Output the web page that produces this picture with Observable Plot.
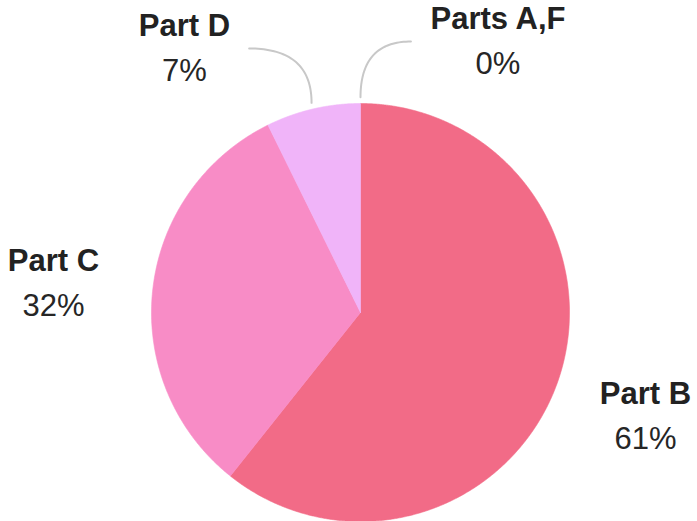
<!DOCTYPE html>
<html><head><meta charset="utf-8">
<script src="https://cdn.jsdelivr.net/npm/d3@7"></script>
<script src="https://cdn.jsdelivr.net/npm/@observablehq/plot@0.6"></script>
<style>body{margin:0;background:#fff}</style>
</head><body><div id="chart"></div>
<script>
// ---- data ----
const parts = ["Part B", "Part C", "Part D", "Parts A,F"];
const shares = [60.7, 32.0, 7.3, 0];
const shareLabels = ["61%", "32%", "7%", "0%"];
const sliceColors = ["#f26b87", "#f88cc6", "#f0b4f9", "#e85b7a"];

// ---- layout ----
const W = 697, H = 521, R = 209, cx = 360, cy = 312;
const FS = 31;
const font = "Liberation Sans, Arial, Helvetica, sans-serif";
const placement = {
  "Part B": {angle: 110.12, r: 1.4522},
  "Part C": {angle: 275.32, r: 1.4753},
  "Part D": {angle: 326.31, r: 1.5182, side: 1},
  "Parts A,F": {angle: 26.9, r: 1.454, side: -1}
};

const arcs = d3.pie().sort(null).value(d => d)(shares);

// slice outlines (units of radius, y up)
const slicePts = [];
arcs.forEach((a, i) => {
  if (a.endAngle - a.startAngle <= 0) return;
  const n = Math.max(2, Math.ceil((a.endAngle - a.startAngle) / 0.005));
  slicePts.push({name: parts[i], x: 0, y: 0});
  for (let k = 0; k <= n; k++) {
    const t = a.startAngle + (a.endAngle - a.startAngle) * k / n;
    slicePts.push({name: parts[i], x: Math.sin(t), y: Math.cos(t)});
  }
  slicePts.push({name: parts[i], x: 0, y: 0});
});

// label positions
const ctx = document.createElement("canvas").getContext("2d");
ctx.font = `bold ${FS}px ${font}`;
const labels = arcs.map((a, i) => {
  const p = placement[parts[i]];
  const mid = (a.startAngle + a.endAngle) / 2;
  const ang = p.angle * Math.PI / 180;
  return {name: parts[i], pct: shareLabels[i], mid, side: p.side,
          x: p.r * Math.sin(ang), y: p.r * Math.cos(ang),
          half: ctx.measureText(parts[i]).width / 2 / R};
});

// leader lines (quadratic curves from label side to pie edge)
const leaderPts = [];
labels.filter(l => l.side).forEach(l => {
  const ex = 1.03 * Math.sin(l.mid), ey = 1.03 * Math.cos(l.mid);
  const sx = l.x + l.side * (l.half + 19 / R), sy = l.y;
  const qx = ex, qy = sy;
  for (let k = 0; k <= 40; k++) {
    const t = k / 40, u = 1 - t;
    leaderPts.push({name: l.name,
      x: u * u * sx + 2 * u * t * qx + t * t * ex,
      y: u * u * sy + 2 * u * t * qy + t * t * ey});
  }
});

const chart = Plot.plot({
  width: W, height: H, margin: 0,
  style: {fontFamily: font, background: "#fff", overflow: "visible"},
  x: {domain: [-cx / R, (W - cx) / R], axis: null},
  y: {domain: [-(H - cy) / R, cy / R], axis: null},
  color: {domain: parts, range: sliceColors},
  marks: [
    Plot.line(slicePts, {x: "x", y: "y", z: "name", fill: "name", stroke: "name", strokeWidth: 0.6, curve: "linear"}),
    Plot.line(leaderPts, {x: "x", y: "y", z: "name", stroke: "#c8c8c8", strokeWidth: 2}),
    Plot.text(labels, {x: "x", y: "y", text: "name", dy: -22.5, fontSize: FS, fontWeight: "bold", fill: "#222"}),
    Plot.text(labels, {x: "x", y: "y", text: "pct", dy: 22.5, fontSize: FS, fill: "#262626"})
  ]
});
document.getElementById("chart").append(chart);
</script>
</body></html>
